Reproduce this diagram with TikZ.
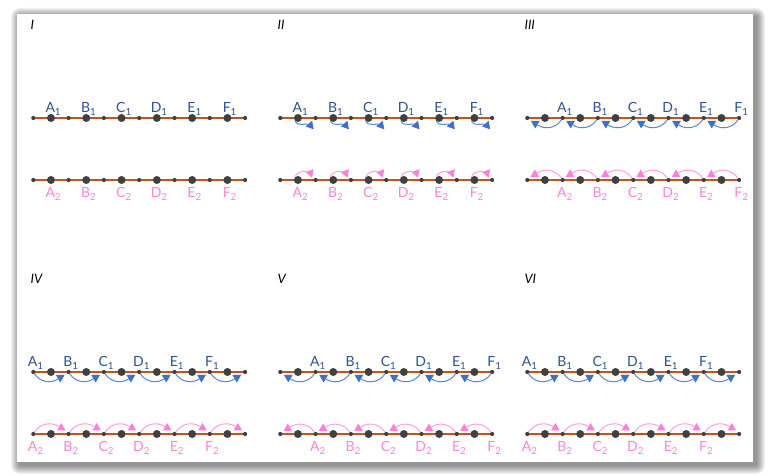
\documentclass[tikz,border=0pt]{standalone}
\usepackage{fontspec}
\setmainfont{Lato}
\usepackage{tikz}
\usetikzlibrary{shapes.geometric}

\definecolor{bondbrown}{HTML}{C0561B}
\definecolor{labblue}{HTML}{2E5393}
\definecolor{arcblue}{HTML}{5B87D2}
\definecolor{triblue}{HTML}{3F70C8}
\definecolor{labpink}{HTML}{FF85D6}
\definecolor{arcpink}{HTML}{FFA0E0}
\definecolor{tripink}{HTML}{FF80D8}

\newcommand{\labfont}{\fontsize{14}{16}\selectfont}

\tikzset{
  atom/.style={circle, fill=black!75, inner sep=0pt},
  bigatom/.style={atom, minimum size=8pt},
  smallatom/.style={atom, minimum size=4.2pt},
  bond/.style={draw=bondbrown, line width=1.8pt},
  uplab/.style={anchor=base, xshift=2.4pt, yshift=5pt, text=labblue, font=\labfont},
  downlab/.style={anchor=base, xshift=2.4pt, yshift=-18pt, text=labpink, font=\labfont},
  tri/.style={regular polygon, regular polygon sides=3, inner sep=0pt, minimum size=10pt},
  bluetri/.style={tri, fill=triblue},
  pinktri/.style={tri, fill=tripink},
  bluearc/.style={draw=arcblue, line width=1pt},
  pinkarc/.style={draw=arcpink, line width=1pt},
  panellab/.style={anchor=west, font=\fontsize{13}{13}\selectfont\itshape},
}

% one chain of atoms: name, x origin, y of the line
\newcommand{\atomrow}[3]{%
  \coordinate (#1-l) at (#2+33.3,#3);
  \coordinate (#1-r) at (#2+245.1,#3);
  \draw[bond] (#1-l) -- (#1-r);
  \foreach \k in {0,...,6}
    \node[smallatom] (#1-s\k) at (#2+33.3+35.3*\k,#3) {};
  \foreach \k in {1,...,6}
    \node[bigatom] (#1-b\k) at (#2+15.65+35.3*\k,#3) {};
}

% labels: panel, atom kind (s or b), first index
\newcommand{\labelsat}[3]{%
  \foreach \L [count=\i from #3] in {A,B,C,D,E,F} {
    \node[uplab] (#1-u\L) at (#1t-#2\i) {\L\textsubscript{1}};
    \node[downlab] (#1-d\L) at (#1b-#2\i) {\L\textsubscript{2}};
  }}

\newcommand{\hopbond}[1]{%
  \foreach \k in {1,...,6} {
    \node[bluetri, rotate=-140] (#1t-v\k) at ([shift={(12.5,-7.5)}]#1t-b\k) {};
    \draw[bluearc] (#1t-b\k.south west) to[out=-80, in=-175, looseness=0.8] (#1t-v\k);
    \node[pinktri, rotate=-40] (#1b-v\k) at ([shift={(12.5,7)}]#1b-b\k) {};
    \draw[pinkarc] (#1b-b\k.north west) to[out=80, in=175, looseness=0.8] (#1b-v\k);
  }}

\newcommand{\hopback}[1]{%
  \foreach \k [evaluate=\k as \j using int(\k-1)] in {1,...,6} {
    \node[bluetri, rotate=180] (#1t-v\k) at ([shift={(8,-5.5)}]#1t-s\j) {};
    \draw[bluearc] (#1t-s\k) to[bend left=45] (#1t-v\k);
    \node[pinktri] (#1b-v\k) at ([shift={(7.5,5.5)}]#1b-s\j) {};
    \draw[pinkarc] (#1b-s\k) to[bend right=45] (#1b-v\k);
  }}

\newcommand{\hopfwd}[1]{%
  \foreach \k in {0,...,5} {
    \node[bluetri, rotate=180] (#1t-v\k) at ([shift={(27,-5.5)}]#1t-s\k) {};
    \draw[bluearc] (#1t-s\k) to[bend right=45] (#1t-v\k);
    \node[pinktri] (#1b-v\k) at ([shift={(28,6)}]#1b-s\k) {};
    \draw[pinkarc] (#1b-s\k) to[bend left=45] (#1b-v\k);
  }}

\begin{document}
\begin{tikzpicture}[x=1pt, y=1pt]
  \useasboundingbox (0,0) rectangle (769,476);
  \fill[white] (0,0) rectangle (769,476);

  % sheet with its shadow
  \foreach \k in {1,...,9}
    \fill[black, opacity=0.055, rounded corners=\k pt]
      (20-\k,11-\k) rectangle (756+\k,459+\k);
  \fill[white] (17,14) rectangle (753,462);

  % panel I
  \node[panellab] (lab1) at (27,451) {I};
  \atomrow{p1t}{0}{358}
  \atomrow{p1b}{0}{296}
  \labelsat{p1}{b}{1}

  % panel II
  \node[panellab] (lab2) at (274,451) {II};
  \atomrow{p2t}{247}{358}
  \atomrow{p2b}{247}{296}
  \hopbond{p2}
  \labelsat{p2}{b}{1}

  % panel III
  \node[panellab] (lab3) at (521,451) {III};
  \atomrow{p3t}{494}{358}
  \atomrow{p3b}{494}{296}
  \hopback{p3}
  \labelsat{p3}{s}{1}

  % panel IV
  \node[panellab] (lab4) at (27,197) {IV};
  \atomrow{p4t}{0}{104}
  \atomrow{p4b}{0}{42}
  \hopfwd{p4}
  \labelsat{p4}{s}{0}

  % panel V
  \node[panellab] (lab5) at (274,197) {V};
  \atomrow{p5t}{247}{104}
  \atomrow{p5b}{247}{42}
  \hopback{p5}
  \labelsat{p5}{s}{1}

  % panel VI
  \node[panellab] (lab6) at (521,197) {VI};
  \atomrow{p6t}{494}{104}
  \atomrow{p6b}{494}{42}
  \hopfwd{p6}
  \labelsat{p6}{s}{0}
\end{tikzpicture}
\end{document}
